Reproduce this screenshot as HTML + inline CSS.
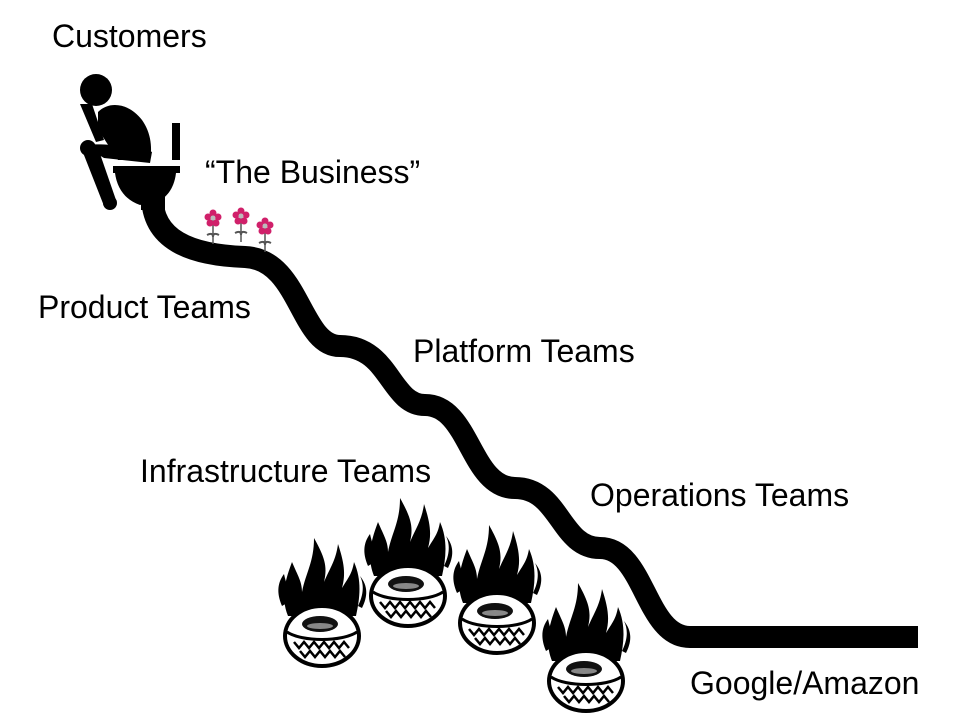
<!DOCTYPE html>
<html><head><style>
html,body{margin:0;padding:0;background:#fff;}
svg{display:block}
text{font-family:"Liberation Sans",Arial,sans-serif;font-size:32px;fill:#000}
</style></head><body>
<svg width="960" height="720" viewBox="0 0 960 720" xmlns="http://www.w3.org/2000/svg">
<defs>
<g id="tire">
  <path d="M-34,-20 C-42,-40 -36,-58 -30,-74 C-24,-60 -20,-54 -20,-44 C-16,-64 -8,-74 -8,-98 C2,-80 6,-70 2,-54 C8,-68 14,-76 16,-92 C22,-74 24,-62 20,-48 C26,-58 30,-62 32,-74 C40,-56 38,-38 34,-20 Z" fill="#000"/>
  <path d="M-40,-30 C-46,-44 -44,-54 -38,-62 C-36,-52 -32,-44 -30,-36 Z" fill="#000"/>
  <path d="M36,-30 C42,-42 42,-52 38,-60 C46,-50 46,-40 40,-28 Z" fill="#000"/>
  <ellipse cx="0" cy="0" rx="37" ry="30" fill="#fff" stroke="#000" stroke-width="4"/>
  <path d="M-35,-4 C-20,6 20,6 35,-4" fill="none" stroke="#000" stroke-width="3"/>
  <ellipse cx="-2" cy="-12" rx="18" ry="8" fill="#111"/>
  <ellipse cx="-2" cy="-10" rx="13" ry="3" fill="#888"/>
  <path d="M-28,6 l5,6 l5,-6 l5,6 l5,-6 l5,6 l5,-6 l5,6 l5,-6 l5,6 l5,-6 l5,6" fill="none" stroke="#000" stroke-width="2.5"/>
  <path d="M-22,15 l5,6 l5,-6 l5,6 l5,-6 l5,6 l5,-6 l5,6 l5,-6 l5,6" fill="none" stroke="#000" stroke-width="2.5"/>
</g>
<g id="flower">
  <line x1="0" y1="0" x2="0" y2="26" stroke="#555" stroke-width="1.5"/>
  <path d="M-6,17 q6,-3 6,2 q0,-5 6,-2" fill="none" stroke="#555" stroke-width="2"/>
  <circle cx="0" cy="-5" r="3.5" fill="#d0206a"/>
  <circle cx="5" cy="-1" r="3.5" fill="#d0206a"/>
  <circle cx="3" cy="5" r="3.5" fill="#d0206a"/>
  <circle cx="-3" cy="5" r="3.5" fill="#d0206a"/>
  <circle cx="-5" cy="-1" r="3.5" fill="#d0206a"/>
  <circle cx="0" cy="0" r="2.5" fill="#bbb"/>
</g>
</defs>

<path d="M152,195 C152,240 190,255 245,257 C300,259 300,346 340,346 C390,346 390,405 425,405 C470,405 470,488 515,488 C560,488 560,548 600,548 C645,548 645,637 690,637 L918,637"
 fill="none" stroke="#000" stroke-width="22"/>

<rect x="172" y="123" width="8" height="37" fill="#000"/>
<rect x="113" y="166" width="67" height="7" fill="#000"/>
<path d="M115,173 L176,173 C174,190 165,198 160,200 L140,205 C125,200 117,188 115,173 Z" fill="#000"/>
<rect x="141" y="190" width="24" height="20" fill="#000"/>

<circle cx="96" cy="90" r="16" fill="#000"/>
<path d="M80,104 L96,142 L104,140 L92,104 Z" fill="#000"/>
<path d="M98,112 C110,100 130,104 142,120 C152,134 152,150 150,160 L118,160 C112,150 104,140 98,128 Z" fill="#000"/>
<path d="M84,146 C90,142 140,146 152,152 L150,163 L104,158 Z" fill="#000"/>
<path d="M82,150 L98,148 L116,200 L104,206 Z" fill="#000"/>
<circle cx="110" cy="203" r="7" fill="#000"/>
<circle cx="88" cy="148" r="8" fill="#000"/>

<use href="#flower" transform="translate(213,218)"/>
<use href="#flower" transform="translate(241,216)"/>
<use href="#flower" transform="translate(265,226)"/>

<use href="#tire" transform="translate(322,636)"/>
<use href="#tire" transform="translate(408,596)"/>
<use href="#tire" transform="translate(497,623)"/>
<use href="#tire" transform="translate(586,681)"/>

<text x="52" y="47">Customers</text>
<text x="205" y="183">“The Business”</text>
<text x="38" y="318">Product Teams</text>
<text x="413" y="362">Platform Teams</text>
<text x="140" y="482">Infrastructure Teams</text>
<text x="590" y="506">Operations Teams</text>
<text x="690" y="694">Google/Amazon</text>
</svg>
</body></html>
